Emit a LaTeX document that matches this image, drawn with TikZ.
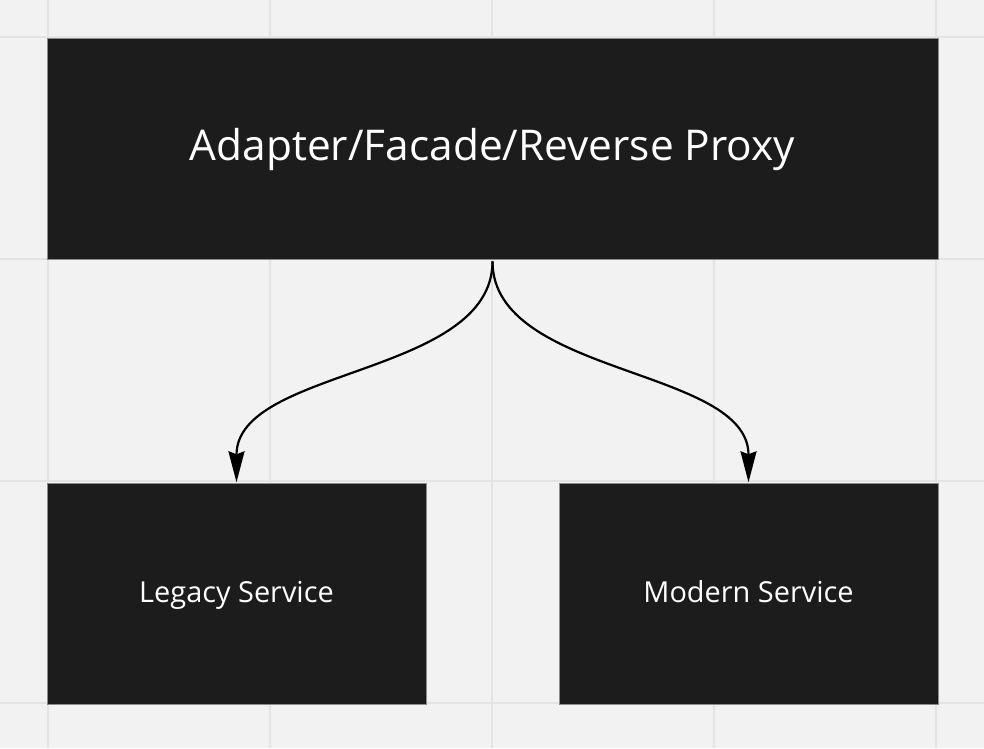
\documentclass[tikz,border=0pt]{standalone}
\usepackage{fontspec}
\setmainfont{Open Sans}
\usepackage{xcolor}
\usetikzlibrary{arrows.meta,positioning}
\definecolor{boardbg}{RGB}{242,242,242}
\definecolor{gridline}{RGB}{228,228,228}
\definecolor{boxfill}{RGB}{28,28,28}
\definecolor{boxedge}{RGB}{140,140,140}
\tikzset{
  block/.style={rectangle,draw=boxedge,line width=0.6pt,fill=boxfill,text=white,inner sep=0pt,align=center},
  proxybox/.style={block,minimum width=891pt,minimum height=221pt,font=\fontsize{42.4}{48}\selectfont,
    text height=35pt,text depth=10pt},
  service/.style={block,minimum width=379pt,minimum height=221pt,font=\fontsize{28.9}{34}\selectfont,
    text height=21pt,text depth=4pt},
  link/.style={-{Stealth[length=31pt,width=16pt,inset=3pt]},line width=2.2pt,draw=black},
}

\begin{document}
\begin{tikzpicture}[x=1pt,y=1pt]
  \fill[boardbg] (0,0) rectangle (984,748);
  \useasboundingbox (0,0) rectangle (984,748);
  \foreach \gx in {48,270,492,714,936}
    \draw[gridline,line width=2pt] (\gx,0) -- (\gx,748);
  \foreach \gy in {45,267,489,711}
    \draw[gridline,line width=2pt] (0,\gy) -- (984,\gy);

  \node[proxybox] (proxy) at (492.5,599.5) {Adapter/Facade/Reverse Proxy};
  \node[service,below=224pt of proxy.south west,anchor=north west] (legacy) {Legacy Service};
  \node[service,below=224pt of proxy.south east,anchor=north east] (modern) {Modern Service};

  \coordinate[below=2pt of proxy.south] (split);
  \draw[link] (split) .. controls +(0,-115) and +(0,115) .. ([yshift=1pt]legacy.north);
  \draw[link] (split) .. controls +(0,-115) and +(0,115) .. ([yshift=1pt]modern.north);
\end{tikzpicture}
\end{document}
